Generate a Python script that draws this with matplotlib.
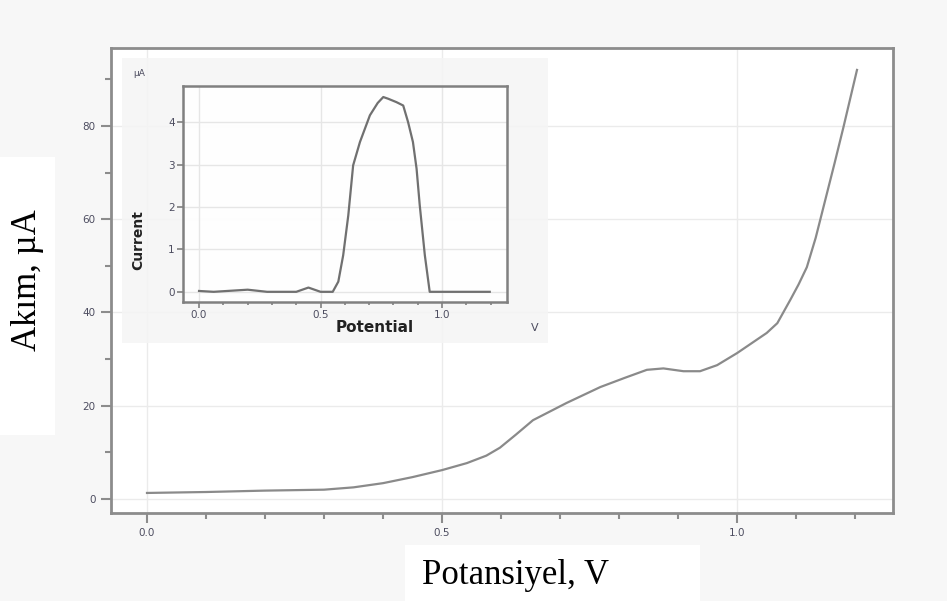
import numpy as np
import matplotlib.pyplot as plt
from matplotlib.patches import Rectangle
from matplotlib.ticker import MultipleLocator, FormatStrFormatter

# main curve: potential (V) vs current (uA)
pot = [0.0, 0.1, 0.2, 0.3, 0.35, 0.4, 0.45, 0.5, 0.542, 0.575, 0.598, 0.625,
       0.654, 0.711, 0.768, 0.81, 0.847, 0.875, 0.909, 0.937, 0.966, 1.0,
       1.05, 1.068, 1.09, 1.104, 1.118, 1.133, 1.149, 1.165, 1.18, 1.203]
cur = [1.3, 1.5, 1.8, 2.0, 2.5, 3.4, 4.7, 6.2, 7.7, 9.3, 11.0, 13.8,
       16.9, 20.6, 24.0, 26.0, 27.7, 28.0, 27.4, 27.4, 28.7, 31.3,
       35.6, 37.7, 42.7, 46.0, 49.7, 56.0, 64.0, 72.0, 79.7, 92.0]

# inset: differential curve
pot_in = [0.0, 0.06, 0.2, 0.28, 0.4, 0.45, 0.5, 0.55, 0.573, 0.593, 0.614,
          0.634, 0.662, 0.703, 0.735, 0.758, 0.778, 0.812, 0.84, 0.86, 0.88,
          0.895, 0.908, 0.929, 0.949, 1.0, 1.1, 1.196]
cur_in = [0.02, 0.0, 0.05, 0.0, 0.0, 0.1, 0.0, 0.0, 0.24, 0.86, 1.8,
          2.98, 3.53, 4.16, 4.45, 4.59, 4.55, 4.47, 4.39, 4.0, 3.53,
          2.9, 2.04, 0.86, 0.0, 0.0, 0.0, 0.0]

W, H = 947, 601
bg = '#f7f7f7'
line_c = '#8a8a8a'
tick_c = '#4d4d60'

fig = plt.figure(figsize=(W / 100, H / 100), dpi=100, facecolor=bg)


def frac(x0, y0, x1, y1):
    # pixel box (top-left origin) -> figure fraction
    return [x0 / W, (H - y1) / H, (x1 - x0) / W, (y1 - y0) / H]


ax = fig.add_axes(frac(111, 48, 893, 513))
ax.set_facecolor('white')
ax.plot(pot, cur, color=line_c, lw=1.6)
ax.set_xlim(-0.061, 1.264)
ax.set_ylim(-3.0, 96.7)
ax.xaxis.set_major_locator(MultipleLocator(0.5))
ax.xaxis.set_minor_locator(MultipleLocator(0.1))
ax.yaxis.set_major_locator(MultipleLocator(20))
ax.yaxis.set_minor_locator(MultipleLocator(10))
ax.xaxis.set_major_formatter(FormatStrFormatter('%.1f'))
ax.grid(True, which='major', color='#ebebeb', lw=1)
for s in ax.spines.values():
    s.set_color('#8c8c8c')
    s.set_linewidth(2)
ax.tick_params(which='major', direction='out', length=7, width=1.5,
               color='#8c8c8c', labelsize=7.5, labelcolor=tick_c, pad=4)
ax.tick_params(which='minor', direction='out', length=4, width=1.5,
               color='#8c8c8c')

# pasted inset background
fig.patches.append(Rectangle((122 / W, (H - 343) / H), 426 / W, 285 / H,
                             transform=fig.transFigure, facecolor='#f5f5f5',
                             edgecolor='none', alpha=0.9, zorder=1))

axi = fig.add_axes(frac(183, 86, 507, 302), zorder=2)
axi.set_facecolor((1, 1, 1, 0.9))
axi.plot(pot_in, cur_in, color='#707070', lw=1.6)
axi.set_xlim(-0.066, 1.267)
axi.set_ylim(-0.24, 4.85)
axi.xaxis.set_major_locator(MultipleLocator(0.5))
axi.xaxis.set_minor_locator(MultipleLocator(0.1))
axi.yaxis.set_major_locator(MultipleLocator(1))
axi.xaxis.set_major_formatter(FormatStrFormatter('%.1f'))
axi.grid(True, which='major', color='#e6e6e6', lw=1)
for s in axi.spines.values():
    s.set_color('#808080')
    s.set_linewidth(1.8)
axi.tick_params(which='major', direction='out', length=4, width=1.2,
                color='#808080', labelsize=7.5, labelcolor=tick_c, pad=2)
axi.tick_params(which='minor', direction='out', length=2.5, width=1.2,
                color='#808080')

fig.text(133 / W, 1 - 73 / H, 'µA', fontsize=6.5, color=tick_c,
         ha='left', va='center', zorder=3)
fig.text(138 / W, 1 - 240 / H, 'Current', fontsize=10, color='#222222',
         fontweight='semibold', rotation=90, ha='center', va='center',
         zorder=3)
fig.text(375 / W, 1 - 328 / H, 'Potential', fontsize=11, color='#222222',
         fontweight='semibold', ha='center', va='center', zorder=3)
fig.text(535 / W, 1 - 328 / H, 'V', fontsize=8, color=tick_c,
         ha='center', va='center', zorder=3)

# outer axis titles on white boxes
fig.patches.append(Rectangle((0, (H - 435) / H), 55 / W, 278 / H,
                             transform=fig.transFigure, facecolor='white',
                             edgecolor='none', zorder=1))
fig.patches.append(Rectangle((405 / W, 0), 295 / W, 56 / H,
                             transform=fig.transFigure, facecolor='white',
                             edgecolor='none', zorder=1))
fig.text(27 / W, 1 - 280 / H, 'Akım, µA', fontsize=25,
         family='Liberation Serif', rotation=90, ha='center', va='center',
         zorder=3)
fig.text(515 / W, 1 - 576 / H, 'Potansiyel, V', fontsize=25,
         family='Liberation Serif', ha='center', va='center', zorder=3)

fig.savefig('out.png', dpi=100, facecolor=bg)
